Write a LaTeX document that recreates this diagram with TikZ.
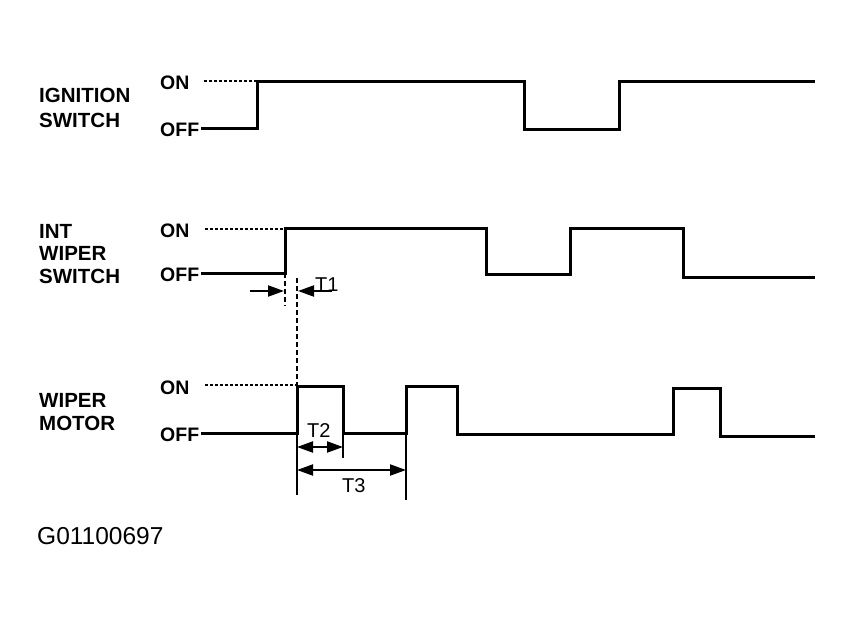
\documentclass[tikz,border=0pt]{standalone}
\usepackage{fontspec}
\setmainfont{Liberation Sans}
\usetikzlibrary{arrows.meta}
\begin{document}
\begin{tikzpicture}[x=1pt,y=-1pt,
  wave/.style={line width=3pt, line join=miter},
  dots/.style={line width=1.6pt, dash pattern=on 2.5pt off 2.5pt},
  dashv/.style={line width=1.5pt, dash pattern=on 5pt off 3pt},
  dim/.style={line width=2pt},
  lbl/.style={font=\bfseries\fontsize{20.5}{24}\selectfont, anchor=base west, inner sep=0pt},
  lvl/.style={font=\bfseries\fontsize{19.5}{23}\selectfont, anchor=base west, inner sep=0pt},
  tl/.style={font=\fontsize{20}{24}\selectfont, anchor=base west, inner sep=0pt},
  tip/.style={-{Triangle[length=16pt,width=11pt]}},
  dtip/.style={{Triangle[length=16pt,width=11pt]}-{Triangle[length=16pt,width=11pt]}},
]
\useasboundingbox[fill=white] (0,0) rectangle (853,620);

% left labels
\node[lbl] (ig1) at (39,103) {IGNITION};
\node[lbl] (ig2) at (39,128) {SWITCH};
\node[lbl] (iw1) at (39,238) {INT};
\node[lbl] (iw2) at (39,260) {WIPER};
\node[lbl] (iw3) at (39,283) {SWITCH};
\node[lbl] (wm1) at (39,407) {WIPER};
\node[lbl] (wm2) at (39,430) {MOTOR};
\node[font=\fontsize{24.5}{28}\selectfont, anchor=base west, inner sep=0pt] (code) at (37,544) {G01100697};

% level labels
\node[lvl] (on1) at (160,90) {ON};
\node[lvl] (off1) at (160,137) {OFF};
\node[lvl] (on2) at (160,237) {ON};
\node[lvl] (off2) at (160,281) {OFF};
\node[lvl] (on3) at (160,394) {ON};
\node[lvl] (off3) at (160,441) {OFF};

% dotted ON references
\draw[dots] (204,81) -- (257,81);
\draw[dots] (205,229) -- (285,229);
\draw[dots] (205,385) -- (297,385);

% ignition switch
\draw[wave] (201,129) -- (257,129) -- (257,82) -- (524,82) -- (524,130)
  -- (619,130) -- (619,82) -- (815,82);

% int wiper switch
\draw[wave] (201,273) -- (285,273) -- (285,229) -- (486,229) -- (486,274)
  -- (570,274) -- (570,229) -- (683,229) -- (683,277) -- (815,277);

% wiper motor
\draw[wave] (201,433) -- (297,433) -- (297,386) -- (343,386) -- (343,433)
  -- (406,433) -- (406,386) -- (457,386) -- (457,434) -- (673,434)
  -- (673,388) -- (720,388) -- (720,436) -- (815,436);

% T1
\draw[dashv] (285,273) -- (285,306);
\draw[dashv] (297,278) -- (297,386);
\draw[dim,tip] (250,291) -- (284,291);
\draw[dim,tip] (332,291) -- (298,291);
\node[tl] (t1) at (315,291) {T1};

% T2, T3
\draw[dim] (297,433) -- (297,495);
\draw[dim] (343,433) -- (343,458);
\draw[dim] (406,433) -- (406,500);
\draw[dim,dtip] (297,447) -- (343,447);
\draw[dim,dtip] (297,470) -- (406,470);
\node[tl] (t2) at (307,437) {T2};
\node[tl] (t3) at (342,492) {T3};
\end{tikzpicture}
\end{document}
